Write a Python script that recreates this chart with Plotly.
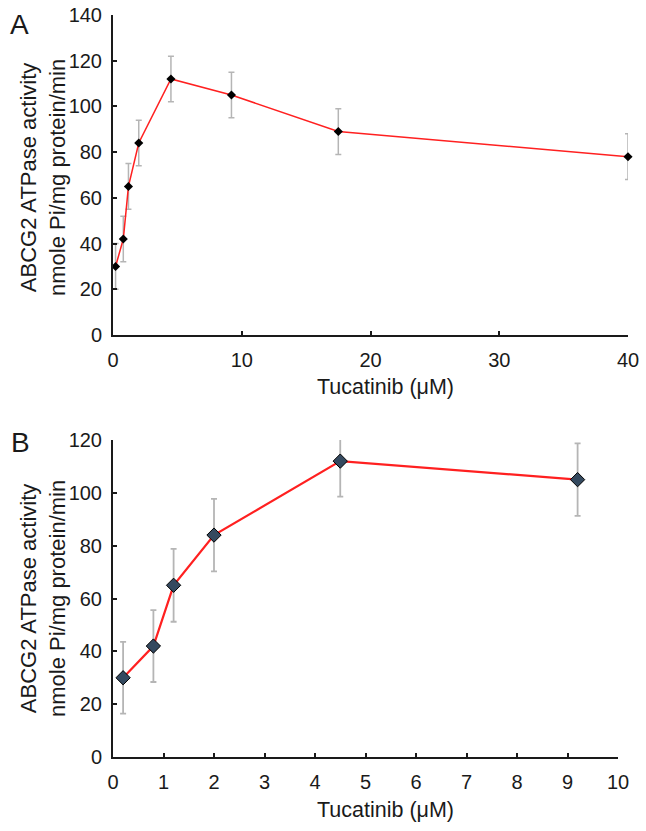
import plotly.graph_objects as go

# Data
conc_a = [0.2, 0.8, 1.2, 2.0, 4.5, 9.2, 17.5, 40.0]
act_a = [30, 42, 65, 84, 112, 105, 89, 78]
err_a = [10, 10, 10, 10, 10, 10, 10, 10]

conc_b = [0.2, 0.8, 1.2, 2.0, 4.5, 9.2]
act_b = [30, 42, 65, 84, 112, 105]
err_b = [13.6, 13.6, 13.8, 13.7, 13.4, 13.7]

xticks_a = [0, 10, 20, 30, 40]
yticks_a = [0, 20, 40, 60, 80, 100, 120, 140]
xticks_b = list(range(0, 11))
yticks_b = [0, 20, 40, 60, 80, 100, 120]

W, H = 646, 831
FONT = "Liberation Sans, Arial, sans-serif"
FS_TICK = 20
FS_TITLE = 22

def px(x):
    return x / W

def py(y):
    return 1 - y / H

fig = go.Figure()

fig.add_trace(go.Scatter(
    x=conc_a, y=act_a, mode="lines+markers",
    line=dict(color="#ff2020", width=1.5),
    marker=dict(symbol="diamond", size=7, color="black"),
    error_y=dict(type="data", array=err_a, color="#b5b5b5", thickness=1.5, width=3),
    xaxis="x", yaxis="y", showlegend=False, cliponaxis=False,
))

fig.add_trace(go.Scatter(
    x=conc_b, y=act_b, mode="lines+markers",
    line=dict(color="#ff2020", width=2.2),
    marker=dict(symbol="diamond", size=11, color="#34495f", line=dict(color="black", width=1)),
    error_y=dict(type="data", array=err_b, color="#b5b5b5", thickness=1.8, width=3),
    xaxis="x2", yaxis="y2", showlegend=False, cliponaxis=False,
))

axis_common = dict(
    showline=True, linecolor="#1a1a1a", linewidth=2,
    ticks="inside", ticklen=4, tickwidth=1.5, tickcolor="#1a1a1a",
    showgrid=False, zeroline=False, automargin=False,
    tickfont=dict(family=FONT, size=FS_TICK, color="#1a1a1a"),
)

fig.update_layout(
    template="none",
    width=W, height=H, autosize=False,
    margin=dict(l=0, r=0, t=0, b=0, pad=0),
    font=dict(family=FONT, size=FS_TITLE, color="#1a1a1a"),
    paper_bgcolor="white", plot_bgcolor="white",
    xaxis=dict(domain=[px(113), px(628)], range=[0, 40], tickvals=xticks_a,
               anchor="y", ticklabelstandoff=6, **axis_common),
    yaxis=dict(domain=[py(335), py(15)], range=[0, 140], tickvals=yticks_a,
               anchor="x", ticklabelstandoff=5, **axis_common),
    xaxis2=dict(domain=[px(113), px(618)], range=[0, 10], tickvals=xticks_b,
                anchor="y2", ticklabelstandoff=6, **axis_common),
    yaxis2=dict(domain=[py(757), py(440)], range=[0, 120], tickvals=yticks_b,
                anchor="x2", ticklabelstandoff=5, **axis_common),
)

ytitle = "ABCG2 ATPase activity<br>nmole Pi/mg protein/min"
xtitle = "Tucatinib (μM)"

ann = [
    dict(text="A", x=px(19), y=py(25), size=28),
    dict(text="B", x=px(20), y=py(443), size=28),
    dict(text=ytitle, x=px(43), y=py(178), textangle=-90, size=FS_TITLE),
    dict(text=ytitle, x=px(43), y=py(599), textangle=-90, size=FS_TITLE),
    dict(text=xtitle, x=px(385), y=py(387), size=FS_TITLE - 0.5),
    dict(text=xtitle, x=px(385), y=py(810), size=FS_TITLE - 0.5),
]
for a in ann:
    fig.add_annotation(xref="paper", yref="paper", xanchor="center", yanchor="middle",
                       showarrow=False, text=a["text"], x=a["x"], y=a["y"],
                       textangle=a.get("textangle", 0),
                       font=dict(family=FONT, color="#1a1a1a", size=a["size"]))

fig.write_html(
    "out.html",
    config={"displayModeBar": False},
    post_script="document.body.style.margin='0';document.body.style.padding='0';"
                "document.documentElement.style.overflow='hidden';",
)
